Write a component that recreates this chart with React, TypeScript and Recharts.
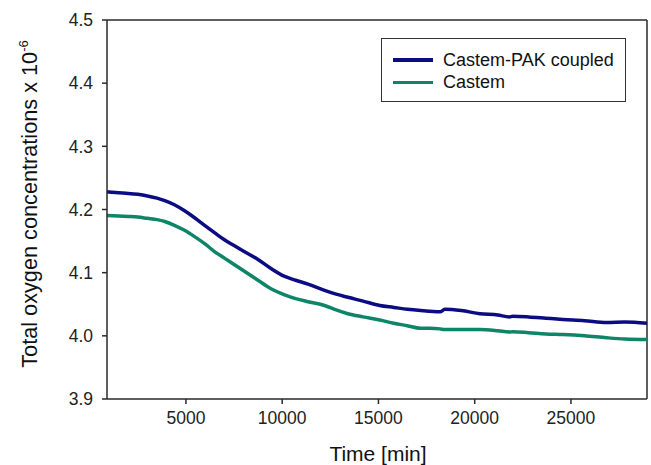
import React from "react";
import { LineChart, Line, XAxis, YAxis, ReferenceLine, Label } from "recharts";

const times = [900, 1500, 2000, 2500, 3000, 3500, 3900, 4400, 4930, 5450, 5970, 6500, 7000, 7500, 8000, 8740, 9400, 10130, 10700, 11340, 12200, 12800, 13410, 14200, 15070, 15800, 16500, 17200, 17670, 18200, 18450, 19300, 20270, 21200, 21800, 21980, 22800, 23700, 24580, 25700, 26850, 27800, 28950];
const coupled = [4.228, 4.2265, 4.2255, 4.224, 4.2215, 4.218, 4.214, 4.2075, 4.198, 4.187, 4.175, 4.163, 4.152, 4.143, 4.134, 4.121, 4.107, 4.094, 4.088, 4.082, 4.072, 4.066, 4.061, 4.055, 4.048, 4.045, 4.042, 4.040, 4.039, 4.038, 4.042, 4.040, 4.035, 4.033, 4.030, 4.031, 4.030, 4.028, 4.026, 4.024, 4.021, 4.022, 4.020];
const castem = [4.1905, 4.1898, 4.189, 4.188, 4.186, 4.184, 4.181, 4.175, 4.167, 4.157, 4.146, 4.133, 4.123, 4.113, 4.103, 4.088, 4.075, 4.065, 4.059, 4.054, 4.048, 4.041, 4.035, 4.030, 4.025, 4.020, 4.016, 4.012, 4.012, 4.011, 4.010, 4.010, 4.010, 4.008, 4.006, 4.0065, 4.005, 4.003, 4.002, 4.000, 3.997, 3.995, 3.994];

const xTicks = [5000, 10000, 15000, 20000, 25000];
const yTicks = [3.9, 4.0, 4.1, 4.2, 4.3, 4.4, 4.5];
const xDomain = [900, 28950];
const seriesNames = ["Castem-PAK coupled", "Castem"];

const data = times.map((t, i) => ({ t, coupled: coupled[i], castem: castem[i] }));

const BLUE = "#0b0b84";
const GREEN = "#0e8566";
const AXIS = "#2a2a2a";
const FONT = "'Liberation Sans', Arial, sans-serif";

export default function App() {
  return (
    <div style={{ position: "fixed", left: 0, top: 0, width: 651, height: 465, background: "#fff", fontFamily: FONT }}>
      <LineChart width={651} height={465} data={data} margin={{ top: 20, right: 4, left: 0, bottom: 0 }}>
        <XAxis
          dataKey="t"
          type="number"
          domain={xDomain}
          ticks={xTicks}
          allowDataOverflow
          height={66}
          tickSize={5}
          tickMargin={8}
          stroke={AXIS}
          strokeWidth={1.5}
          tick={{ fill: "#222", fontSize: 17.5, fontFamily: FONT }}
        >
          <Label
            content={() => (
              <text x={378} y={461} textAnchor="middle" fontSize={21} fontFamily={FONT} fill="#111">
                Time [min]
              </text>
            )}
          />
        </XAxis>
        <YAxis
          type="number"
          domain={[3.9, 4.5]}
          ticks={yTicks}
          allowDataOverflow
          width={107}
          tickSize={5}
          tickMargin={9}
          stroke={AXIS}
          strokeWidth={1.5}
          tickFormatter={(v: number) => v.toFixed(1)}
          tick={{ fill: "#222", fontSize: 17.5, fontFamily: FONT }}
        >
          <Label
            content={() => (
              <text
                x={37}
                y={204}
                transform="rotate(-90, 37, 204)"
                textAnchor="middle"
                fontSize={21.7}
                fontFamily={FONT}
                fill="#111"
              >
                Total oxygen concentrations x 10
                <tspan dy={-9} fontSize={13}>-6</tspan>
              </text>
            )}
          />
        </YAxis>
        <ReferenceLine y={4.5} stroke={AXIS} strokeWidth={1.5} />
        <ReferenceLine x={xDomain[1]} stroke={AXIS} strokeWidth={1.5} />
        <Line type="monotone" dataKey="castem" stroke={GREEN} strokeWidth={3.5} dot={false} isAnimationActive={false} />
        <Line type="monotone" dataKey="coupled" stroke={BLUE} strokeWidth={3.5} dot={false} isAnimationActive={false} />
      </LineChart>
      <div
        style={{
          position: "absolute",
          left: 381,
          top: 38,
          width: 243,
          height: 62,
          border: "1.5px solid #333",
          boxSizing: "content-box",
        }}
      >
        {[BLUE, GREEN].map((c, i) => (
          <div key={i} style={{ position: "absolute", left: 11, top: 11 + i * 22.4, height: 20, display: "flex", alignItems: "center" }}>
            <div style={{ width: 40, height: 3.5, background: c }} />
            <span style={{ marginLeft: 10, fontSize: 18, color: "#111", fontFamily: FONT, whiteSpace: "nowrap" }}>{seriesNames[i]}</span>
          </div>
        ))}
      </div>
    </div>
  );
}
